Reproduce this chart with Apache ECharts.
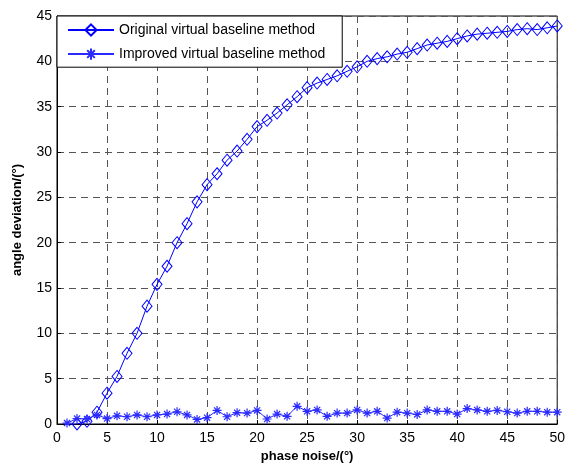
<!DOCTYPE html>
<html>
<head>
<meta charset="utf-8">
<script src="https://cdn.jsdelivr.net/npm/echarts@6/dist/echarts.min.js"></script>
<style>
  html, body { margin: 0; padding: 0; background: #fff; }
  #chart { width: 568px; height: 468px; }
</style>
</head>
<body>
<div id="chart"></div>
<script>
// phase noise (deg), 1..50
const phaseNoise = [
  1, 2, 3, 4, 5, 6, 7, 8, 9, 10,
  11, 12, 13, 14, 15, 16, 17, 18, 19, 20,
  21, 22, 23, 24, 25, 26, 27, 28, 29, 30,
  31, 32, 33, 34, 35, 36, 37, 38, 39, 40,
  41, 42, 43, 44, 45, 46, 47, 48, 49, 50
];

// original virtual baseline method
const originalDev = [
  -0.1, 0.0, 0.3, 1.3, 3.4, 5.25, 7.8, 10.0, 13.0, 15.4,
  17.4, 20.0, 22.1, 24.5, 26.4, 27.6, 29.1, 30.1, 31.4, 32.8,
  33.5, 34.3, 35.2, 36.1, 37.1, 37.6, 38.0, 38.4, 38.9, 39.4,
  40.0, 40.3, 40.5, 40.8, 41.0, 41.4, 41.8, 42.0, 42.2, 42.5,
  42.8, 43.0, 43.1, 43.2, 43.3, 43.5, 43.6, 43.5, 43.7, 43.9
];

// improved virtual baseline method
const improvedDev = [
  0.1, 0.6, 0.55, 1.0, 0.6, 0.9, 0.8, 1.0, 0.8, 1.0,
  1.1, 1.35, 1.0, 0.5, 0.7, 1.5, 0.8, 1.25, 1.2, 1.5,
  0.55, 1.1, 0.85, 1.95, 1.4, 1.55, 0.85, 1.2, 1.2, 1.55,
  1.2, 1.4, 0.65, 1.3, 1.2, 1.05, 1.55, 1.4, 1.4, 1.1,
  1.7, 1.55, 1.4, 1.5, 1.35, 1.2, 1.4, 1.4, 1.3, 1.3
];

const seriesNames = ['Original virtual baseline method', 'Improved virtual baseline method'];

// matlab-style asterisk marker
const starPath = 'path://M5,0L5,10M0,5L10,5M1.6,1.6L8.4,8.4M1.6,8.4L8.4,1.6';

const chart = echarts.init(document.getElementById('chart'));

const fontName = 'Arial, "Liberation Sans", sans-serif';
const gridLine = { show: true, lineStyle: { color: '#555', type: [7, 5], width: 1 } };
const axisFont = { fontFamily: fontName, fontSize: 14, color: '#000' };

chart.setOption({
  backgroundColor: '#fff',
  animation: false,
  grid: {
    left: 57, right: 6, top: 16, bottom: 43,
    show: true, borderColor: '#000', borderWidth: 1, backgroundColor: 'transparent'
  },
  legend: {
    orient: 'vertical',
    left: 57, top: 16,
    backgroundColor: '#fff',
    borderColor: '#000', borderWidth: 1,
    padding: [7, 17, 5, 10],
    itemWidth: 46, itemHeight: 14, itemGap: 9,
    textStyle: { fontFamily: fontName, fontSize: 14, color: '#000' },
    data: seriesNames
  },
  xAxis: {
    type: 'value', min: 0, max: 50, interval: 5,
    name: 'phase noise/(°)', nameLocation: 'middle', nameGap: 26,
    nameTextStyle: { fontFamily: fontName, fontSize: 13, fontWeight: 'bold', color: '#000' },
    axisLine: { lineStyle: { color: '#000' } },
    axisTick: { inside: true, length: 4, lineStyle: { color: '#000' } },
    axisLabel: Object.assign({ margin: 7 }, axisFont),
    splitLine: gridLine
  },
  yAxis: {
    type: 'value', min: 0, max: 45, interval: 5,
    name: 'angle deviation/(°)', nameLocation: 'middle', nameGap: 33,
    nameTextStyle: { fontFamily: fontName, fontSize: 13, fontWeight: 'bold', color: '#000' },
    axisLine: { lineStyle: { color: '#000' } },
    axisTick: { inside: true, length: 4, lineStyle: { color: '#000' } },
    axisLabel: Object.assign({ margin: 5 }, axisFont),
    splitLine: gridLine
  },
  series: [
    {
      name: seriesNames[0],
      type: 'line',
      data: phaseNoise.map((x, i) => [x, originalDev[i]]),
      symbol: 'diamond',
      symbolSize: [10, 12],
      showAllSymbol: true,
      lineStyle: { color: '#0000ff', width: 1 },
      itemStyle: { color: 'rgba(255,255,255,0)', borderColor: '#0000ff', borderWidth: 1 },
      emphasis: { disabled: true }
    },
    {
      name: seriesNames[1],
      type: 'line',
      data: phaseNoise.map((x, i) => [x, improvedDev[i]]),
      symbol: starPath,
      symbolSize: 9,
      showAllSymbol: true,
      lineStyle: { color: '#2a2aff', width: 1 },
      itemStyle: { color: 'none', borderColor: '#2a2aff', borderWidth: 1.2 },
      emphasis: { disabled: true }
    }
  ]
});
</script>
</body>
</html>
